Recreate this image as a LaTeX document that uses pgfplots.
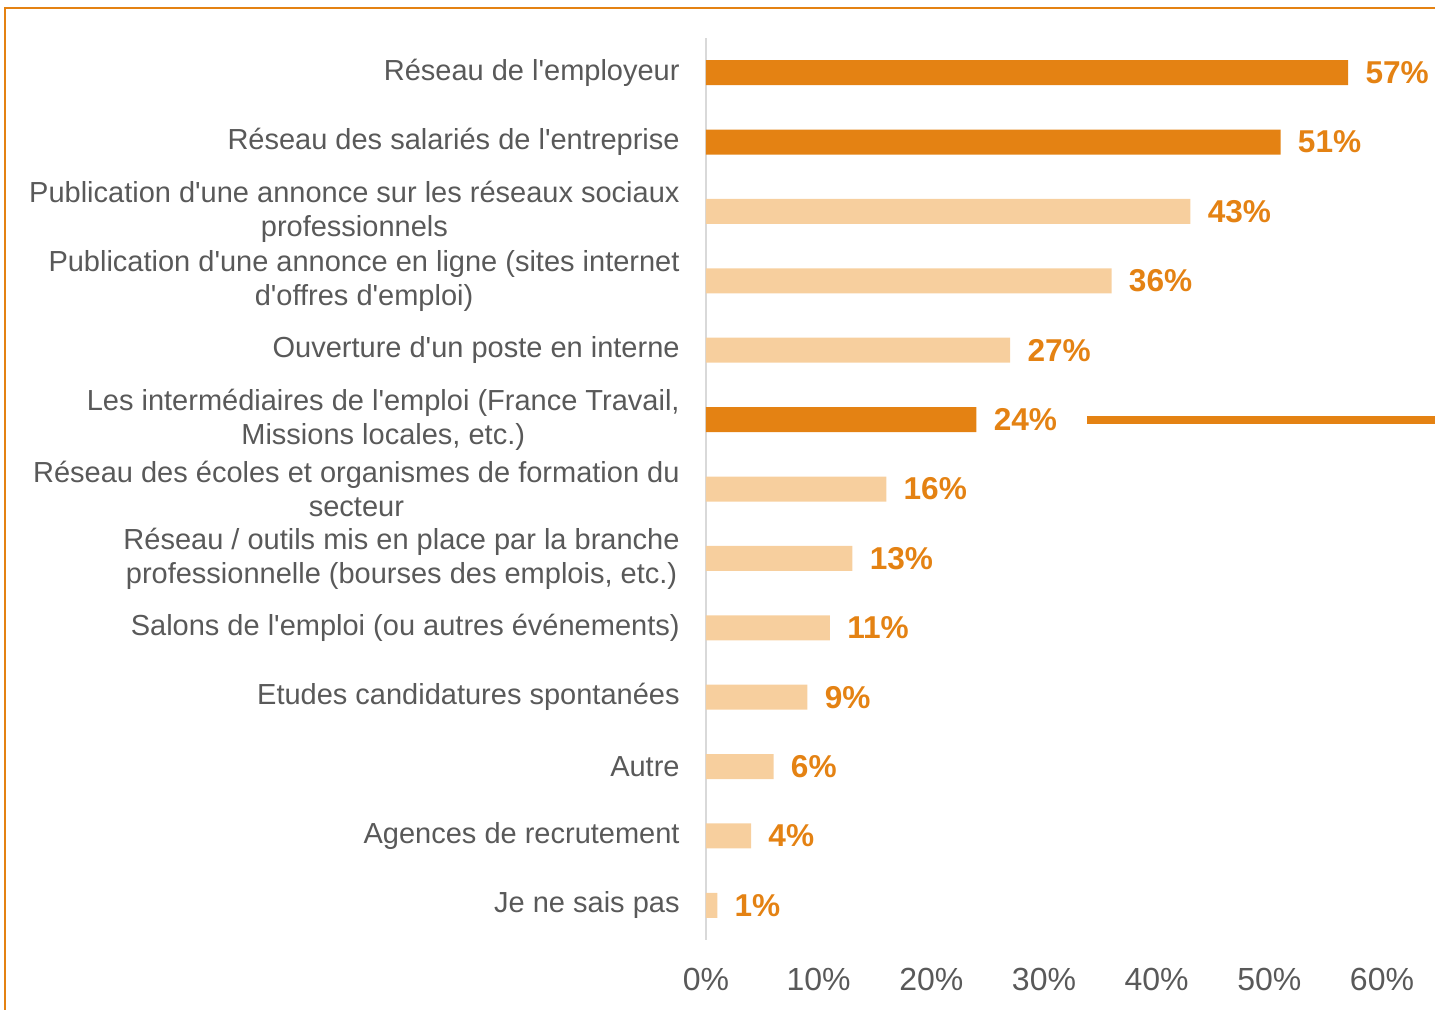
\documentclass[border=0pt]{standalone}
\usepackage{pgfplots}
\pgfplotsset{compat=1.18}
\usepackage{fontspec}
\setmainfont{Liberation Sans}[Ligatures=TeXOff]
\definecolor{darkor}{HTML}{E48213}
\definecolor{lightor}{HTML}{F7CF9E}
\definecolor{txtgrey}{HTML}{595959}
\definecolor{axgrey}{HTML}{D9D9D9}
\begin{document}
\begin{tikzpicture}
% 1px of the reference = 0.5pt; page fixed first so nothing below widens it
\useasboundingbox (-353pt,-34.5pt) rectangle (364.5pt,470pt);
\begin{axis}[
    scale only axis,
    width=338pt, height=451pt,
    xmin=0, xmax=60,
    ymin=-0.5, ymax=12.5,
    y dir=reverse,
    xbar, bar width=12.5pt, bar shift=0pt,
    clip=false,
    axis lines*=left,
    separate axis lines,
    x axis line style={draw=none},
    y axis line style={draw=axgrey, line width=1.2pt},
    major tick length=0pt,
    xtick={0,10,...,60},
    xticklabel={\pgfmathprintnumber{\tick}\%},
    /pgf/number format/assume math mode=true,
    xticklabel style={font=\fontsize{16}{19}\selectfont, text=txtgrey, yshift=-10.5pt},
    ytick={0,...,12},
    yticklabels={
        Réseau de l'employeur,
        Réseau des salariés de l'entreprise,
        {Publication d'une annonce sur les réseaux sociaux\\professionnels},
        {Publication d'une annonce en ligne (sites internet\\d'offres d'emploi)},
        Ouverture d'un poste en interne,
        {Les intermédiaires de l'emploi (France Travail,\\Missions locales, etc.)},
        {Réseau des écoles et organismes de formation du\\secteur},
        {Réseau / outils mis en place par la branche\\professionnelle (bourses des emplois, etc.)},
        {Salons de l'emploi (ou autres événements)},
        Etudes candidatures spontanées,
        Autre,
        Agences de recrutement,
        Je ne sais pas},
    yticklabel style={font=\fontsize{14.5}{17}\selectfont, text=txtgrey,
        align=center, anchor=east, inner sep=0pt, xshift=-13pt},
    point meta=x,
    nodes near coords={\pgfmathprintnumber{\pgfplotspointmeta}\%},
    nodes near coords style={font=\fontsize{15.8}{18}\selectfont\bfseries,
        text=darkor, anchor=west, inner sep=0pt, xshift=8.5pt},
]
\addplot[fill=darkor, draw=none] coordinates {
    (57,0) (51,1) (24,5)
};
\addplot[fill=lightor, draw=none] coordinates {
    (43,2) (36,3) (27,4) (16,6) (13,7) (11,8) (9,9) (6,10) (4,11) (1,12)
};
\draw[darkor, line width=4pt] (axis cs:33.8,5) -- (axis cs:66,5);
\end{axis}
\draw[darkor, line width=1.2pt] (-350.5pt,-40pt) -- (-350.5pt,466pt) -- (370pt,466pt);
\end{tikzpicture}
\end{document}
